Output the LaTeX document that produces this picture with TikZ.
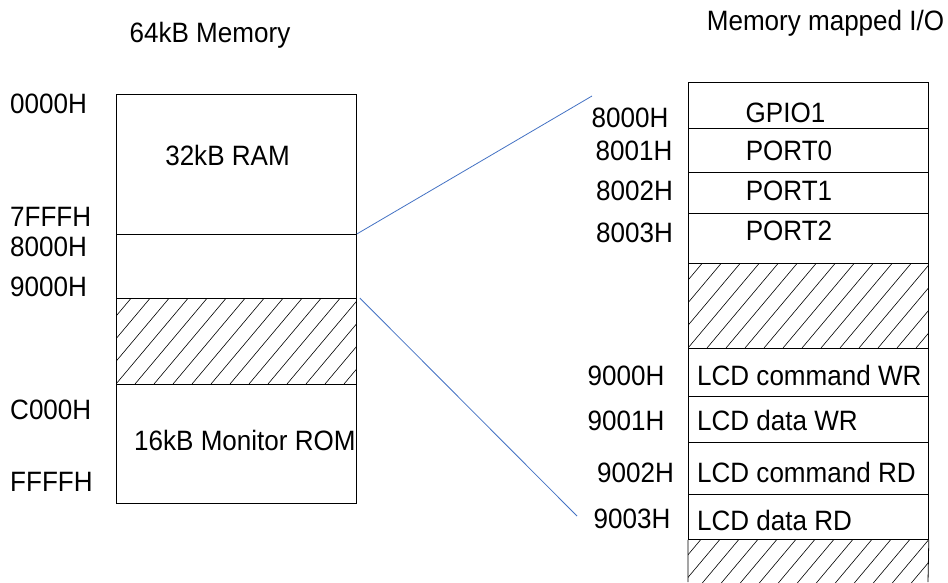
\documentclass[tikz,border=0pt]{standalone}
\usepackage{fontspec}
\setmainfont{Liberation Sans}[FakeStretch=0.93]
\definecolor{linkblue}{RGB}{68,114,196}
\newcommand\myhatch[4]{% x1, y1 (top), x2, y2 (bottom)
  \begin{scope}
    \clip (#1,#2) rectangle (#3,#4);
    \foreach \k in {-6,...,16}{
      \draw[hatchline] ({#1+\k*19},{#4}) -- ++({(#4-#2)/1.19},{-(#4-#2)});
    }
  \end{scope}}
\begin{document}
\begin{tikzpicture}[x=1pt,y=-1pt,
  lbl/.style={font=\fontsize{28}{32}\selectfont, inner sep=0pt, text height=20pt, text depth=0pt},
  cell/.style={draw=black, line width=0.8pt, anchor=north west, inner sep=0pt, minimum width=240pt},
  hatchline/.style={black, line width=0.6pt},
  link/.style={linkblue, line width=0.8pt}]
\useasboundingbox (0,0) rectangle (948,582);
\fill[white] (0,0) rectangle (948,582);

% ---------- left: 64kB memory ----------
\node[lbl] (memtitle) at (210,32) {64kB Memory};
\myhatch{116}{298}{356}{384}
\node[cell, minimum height=140pt] (ram) at (116,94) {};
\node[cell, minimum height=64pt] (iowin) at (116,234) {};
\node[cell, minimum height=86pt] (gap) at (116,298) {};
\node[cell, minimum height=119pt] (rom) at (116,384) {};

\node[lbl] (ramtxt) at (227.5,155) {32kB RAM};
\node[lbl, anchor=west] (romtxt) at (134,440) {16kB Monitor ROM};

\node[lbl, anchor=west] (a0000) at (10,103) {0000H};
\node[lbl, anchor=west] (a7fff) at (10,216) {7FFFH};
\node[lbl, anchor=west] (a8000) at (10,246) {8000H};
\node[lbl, anchor=west] (a9000) at (10,286) {9000H};
\node[lbl, anchor=west] (ac000) at (10,409) {C000H};
\node[lbl, anchor=west] (affff) at (10,481) {FFFFH};

% ---------- right: memory mapped I/O ----------
\node[lbl] (iotitle) at (825.5,20) {Memory mapped I/O};
\myhatch{688}{263}{928}{348}
\myhatch{688}{539}{928}{600}
\node[cell, minimum height=46pt] (gpio) at (688,82) {};
\node[cell, minimum height=44pt] (port0) at (688,128) {};
\node[cell, minimum height=41pt] (port1) at (688,172) {};
\node[cell, minimum height=50pt] (port2) at (688,213) {};
\node[cell, minimum height=85pt] (gap2) at (688,263) {};
\node[cell, minimum height=48pt] (lcdcw) at (688,348) {};
\node[cell, minimum height=46pt] (lcddw) at (688,396) {};
\node[cell, minimum height=52pt] (lcdcr) at (688,442) {};
\node[cell, minimum height=45pt] (lcddr) at (688,494) {};
\draw[line width=0.8pt] (lcddr.south west) -- (688,582) (lcddr.south east) -- (928,582);

\node[lbl] (tgpio) at (785.5,112) {GPIO1};
\node[lbl] (tport0) at (789,150) {PORT0};
\node[lbl] (tport1) at (789,190) {PORT1};
\node[lbl] (tport2) at (789,230) {PORT2};
\node[lbl, anchor=west] (tlcdcw) at (697,375) {LCD command WR};
\node[lbl, anchor=west] (tlcddw) at (697,420) {LCD data WR};
\node[lbl, anchor=west] (tlcdcr) at (697,472) {LCD command RD};
\node[lbl, anchor=west] (tlcddr) at (697,520) {LCD data RD};

\node[lbl] (b8000) at (630,117) {8000H};
\node[lbl] (b8001) at (634,150) {8001H};
\node[lbl] (b8002) at (634.5,190) {8002H};
\node[lbl] (b8003) at (634.5,232) {8003H};
\node[lbl] (b9000) at (626,375) {9000H};
\node[lbl] (b9001) at (626,420) {9001H};
\node[lbl] (b9002) at (635.5,472) {9002H};
\node[lbl] (b9003) at (632,518) {9003H};

% ---------- connectors ----------
\coordinate (endtop) at (592,96);
\coordinate (endbot) at (577,516);
\draw[link] (iowin.north east) -- (endtop);
\draw[link] ([xshift=3pt]gap.north east) -- (endbot);
\end{tikzpicture}
\end{document}
